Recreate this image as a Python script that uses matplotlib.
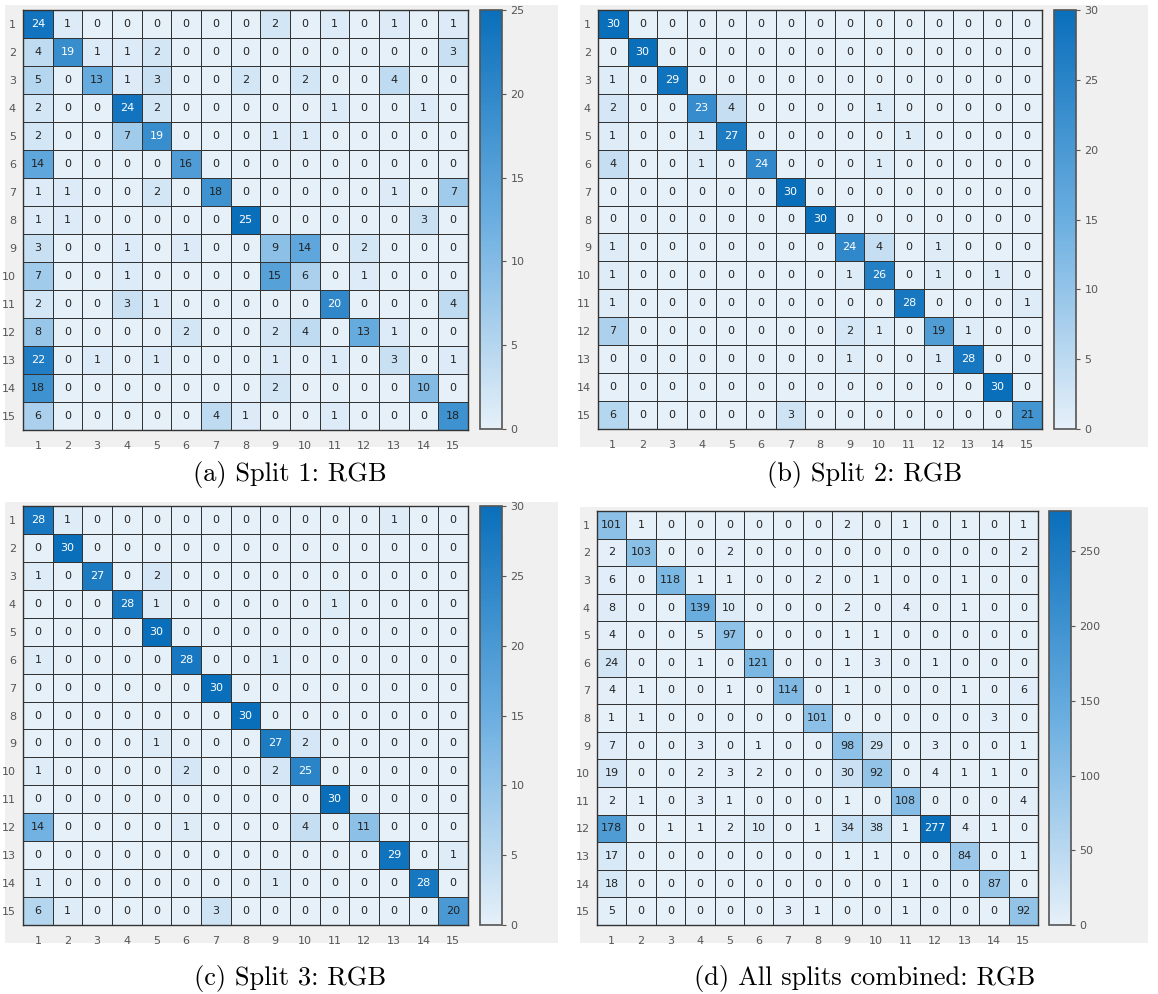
import numpy as np
import matplotlib
matplotlib.use("Agg")
import matplotlib.pyplot as plt
from matplotlib.colors import LinearSegmentedColormap
from matplotlib.patches import Rectangle

classes = list(range(1, 16))

split1 = [
    [24, 1, 0, 0, 0, 0, 0, 0, 2, 0, 1, 0, 1, 0, 1],
    [4, 19, 1, 1, 2, 0, 0, 0, 0, 0, 0, 0, 0, 0, 3],
    [5, 0, 13, 1, 3, 0, 0, 2, 0, 2, 0, 0, 4, 0, 0],
    [2, 0, 0, 24, 2, 0, 0, 0, 0, 0, 1, 0, 0, 1, 0],
    [2, 0, 0, 7, 19, 0, 0, 0, 1, 1, 0, 0, 0, 0, 0],
    [14, 0, 0, 0, 0, 16, 0, 0, 0, 0, 0, 0, 0, 0, 0],
    [1, 1, 0, 0, 2, 0, 18, 0, 0, 0, 0, 0, 1, 0, 7],
    [1, 1, 0, 0, 0, 0, 0, 25, 0, 0, 0, 0, 0, 3, 0],
    [3, 0, 0, 1, 0, 1, 0, 0, 9, 14, 0, 2, 0, 0, 0],
    [7, 0, 0, 1, 0, 0, 0, 0, 15, 6, 0, 1, 0, 0, 0],
    [2, 0, 0, 3, 1, 0, 0, 0, 0, 0, 20, 0, 0, 0, 4],
    [8, 0, 0, 0, 0, 2, 0, 0, 2, 4, 0, 13, 1, 0, 0],
    [22, 0, 1, 0, 1, 0, 0, 0, 1, 0, 1, 0, 3, 0, 1],
    [18, 0, 0, 0, 0, 0, 0, 0, 2, 0, 0, 0, 0, 10, 0],
    [6, 0, 0, 0, 0, 0, 4, 1, 0, 0, 1, 0, 0, 0, 18],
]

split2 = [
    [30, 0, 0, 0, 0, 0, 0, 0, 0, 0, 0, 0, 0, 0, 0],
    [0, 30, 0, 0, 0, 0, 0, 0, 0, 0, 0, 0, 0, 0, 0],
    [1, 0, 29, 0, 0, 0, 0, 0, 0, 0, 0, 0, 0, 0, 0],
    [2, 0, 0, 23, 4, 0, 0, 0, 0, 1, 0, 0, 0, 0, 0],
    [1, 0, 0, 1, 27, 0, 0, 0, 0, 0, 1, 0, 0, 0, 0],
    [4, 0, 0, 1, 0, 24, 0, 0, 0, 1, 0, 0, 0, 0, 0],
    [0, 0, 0, 0, 0, 0, 30, 0, 0, 0, 0, 0, 0, 0, 0],
    [0, 0, 0, 0, 0, 0, 0, 30, 0, 0, 0, 0, 0, 0, 0],
    [1, 0, 0, 0, 0, 0, 0, 0, 24, 4, 0, 1, 0, 0, 0],
    [1, 0, 0, 0, 0, 0, 0, 0, 1, 26, 0, 1, 0, 1, 0],
    [1, 0, 0, 0, 0, 0, 0, 0, 0, 0, 28, 0, 0, 0, 1],
    [7, 0, 0, 0, 0, 0, 0, 0, 2, 1, 0, 19, 1, 0, 0],
    [0, 0, 0, 0, 0, 0, 0, 0, 1, 0, 0, 1, 28, 0, 0],
    [0, 0, 0, 0, 0, 0, 0, 0, 0, 0, 0, 0, 0, 30, 0],
    [6, 0, 0, 0, 0, 0, 3, 0, 0, 0, 0, 0, 0, 0, 21],
]

split3 = [
    [28, 1, 0, 0, 0, 0, 0, 0, 0, 0, 0, 0, 1, 0, 0],
    [0, 30, 0, 0, 0, 0, 0, 0, 0, 0, 0, 0, 0, 0, 0],
    [1, 0, 27, 0, 2, 0, 0, 0, 0, 0, 0, 0, 0, 0, 0],
    [0, 0, 0, 28, 1, 0, 0, 0, 0, 0, 1, 0, 0, 0, 0],
    [0, 0, 0, 0, 30, 0, 0, 0, 0, 0, 0, 0, 0, 0, 0],
    [1, 0, 0, 0, 0, 28, 0, 0, 1, 0, 0, 0, 0, 0, 0],
    [0, 0, 0, 0, 0, 0, 30, 0, 0, 0, 0, 0, 0, 0, 0],
    [0, 0, 0, 0, 0, 0, 0, 30, 0, 0, 0, 0, 0, 0, 0],
    [0, 0, 0, 0, 1, 0, 0, 0, 27, 2, 0, 0, 0, 0, 0],
    [1, 0, 0, 0, 0, 2, 0, 0, 2, 25, 0, 0, 0, 0, 0],
    [0, 0, 0, 0, 0, 0, 0, 0, 0, 0, 30, 0, 0, 0, 0],
    [14, 0, 0, 0, 0, 1, 0, 0, 0, 4, 0, 11, 0, 0, 0],
    [0, 0, 0, 0, 0, 0, 0, 0, 0, 0, 0, 0, 29, 0, 1],
    [1, 0, 0, 0, 0, 0, 0, 0, 1, 0, 0, 0, 0, 28, 0],
    [6, 1, 0, 0, 0, 0, 3, 0, 0, 0, 0, 0, 0, 0, 20],
]

combined = [
    [101, 1, 0, 0, 0, 0, 0, 0, 2, 0, 1, 0, 1, 0, 1],
    [2, 103, 0, 0, 2, 0, 0, 0, 0, 0, 0, 0, 0, 0, 2],
    [6, 0, 118, 1, 1, 0, 0, 2, 0, 1, 0, 0, 1, 0, 0],
    [8, 0, 0, 139, 10, 0, 0, 0, 2, 0, 4, 0, 1, 0, 0],
    [4, 0, 0, 5, 97, 0, 0, 0, 1, 1, 0, 0, 0, 0, 0],
    [24, 0, 0, 1, 0, 121, 0, 0, 1, 3, 0, 1, 0, 0, 0],
    [4, 1, 0, 0, 1, 0, 114, 0, 1, 0, 0, 0, 1, 0, 6],
    [1, 1, 0, 0, 0, 0, 0, 101, 0, 0, 0, 0, 0, 3, 0],
    [7, 0, 0, 3, 0, 1, 0, 0, 98, 29, 0, 3, 0, 0, 1],
    [19, 0, 0, 2, 3, 2, 0, 0, 30, 92, 0, 4, 1, 1, 0],
    [2, 1, 0, 3, 1, 0, 0, 0, 1, 0, 108, 0, 0, 0, 4],
    [178, 0, 1, 1, 2, 10, 0, 1, 34, 38, 1, 277, 4, 1, 0],
    [17, 0, 0, 0, 0, 0, 0, 0, 1, 1, 0, 0, 84, 0, 1],
    [18, 0, 0, 0, 0, 0, 0, 0, 0, 0, 1, 0, 0, 87, 0],
    [5, 0, 0, 0, 0, 0, 3, 1, 0, 0, 1, 0, 0, 0, 92],
]

captions = ["(a) Split 1: RGB", "(b) Split 2: RGB",
            "(c) Split 3: RGB", "(d) All splits combined: RGB"]
cbar_ticks = [[0, 5, 10, 15, 20, 25], [0, 5, 10, 15, 20, 25, 30],
              [0, 5, 10, 15, 20, 25, 30], [0, 50, 100, 150, 200, 250]]

W, H = 1158, 994
fig = plt.figure(figsize=(W / 100, H / 100), dpi=100)
fig.patch.set_facecolor("white")

cmap = LinearSegmentedColormap.from_list(
    "blues_matlab", ["#e6f0f9", "#6aaee0", "#0a6fbb"])


def frac(x0, y0, x1, y1):
    """Pixel box (top-left origin) -> figure fraction [l, b, w, h]."""
    return [x0 / W, 1 - y1 / H, (x1 - x0) / W, (y1 - y0) / H]


# pixel layouts: panel background, heatmap box, colorbar box, caption center
layouts = [
    dict(bg=(5, 5, 558, 447), hm=(23, 10, 468, 430), cb=(480, 10, 502, 429), cap=(290, 474)),
    dict(bg=(580, 5, 1148, 447), hm=(598, 10, 1042, 429), cb=(1054, 10, 1076, 429), cap=(865, 474)),
    dict(bg=(5, 502, 558, 943), hm=(23, 506, 468, 925), cb=(480, 506, 502, 925), cap=(290, 978)),
    dict(bg=(580, 507, 1148, 943), hm=(597, 511, 1038, 925), cb=(1049, 511, 1071, 925), cap=(865, 978)),
]

matrices = [split1, split2, split3, combined]

for mat, lay, cap, ticks in zip(matrices, layouts, captions, cbar_ticks):
    data = np.array(mat)
    vmax = data.max()

    l, b, w, h = frac(*lay["bg"])
    fig.patches.append(Rectangle((l, b), w, h, transform=fig.transFigure,
                                 facecolor="#f0f0f0", edgecolor="none", zorder=-5))

    ax = fig.add_axes(frac(*lay["hm"]))
    edges = np.arange(0.5, len(classes) + 1, 1.0)
    mesh = ax.pcolormesh(edges, edges, data, cmap=cmap, vmin=0, vmax=vmax,
                         edgecolors="#333333", linewidth=0.7)
    ax.set_xlim(0.5, len(classes) + 0.5)
    ax.set_ylim(len(classes) + 0.5, 0.5)
    ax.set_xticks(classes)
    ax.set_yticks(classes)
    ax.set_xticklabels(classes)
    ax.set_yticklabels(classes)
    ax.tick_params(length=0, labelsize=8, colors="#555555")
    ax.tick_params(axis="x", pad=8)
    ax.tick_params(axis="y", pad=5)
    for s in ax.spines.values():
        s.set_edgecolor("#333333")
        s.set_linewidth(1.0)

    for i in range(data.shape[0]):
        for j in range(data.shape[1]):
            v = data[i, j]
            color = "white" if v / vmax > 0.75 else "#222222"
            ax.text(classes[j], classes[i], str(v), ha="center", va="center",
                    fontsize=8, color=color)

    cax = fig.add_axes(frac(*lay["cb"]))
    cb = fig.colorbar(mesh, cax=cax, ticks=ticks)
    cb.outline.set_edgecolor("#555555")
    cb.outline.set_linewidth(1.2)
    cax.tick_params(labelsize=8, colors="#555555", length=3, width=0.8, pad=3)

    cx, cy = lay["cap"]
    fig.text(cx / W, 1 - cy / H, cap, ha="center", va="center",
             fontsize=19, family="cmr10")

fig.savefig("out.png", dpi=100)
